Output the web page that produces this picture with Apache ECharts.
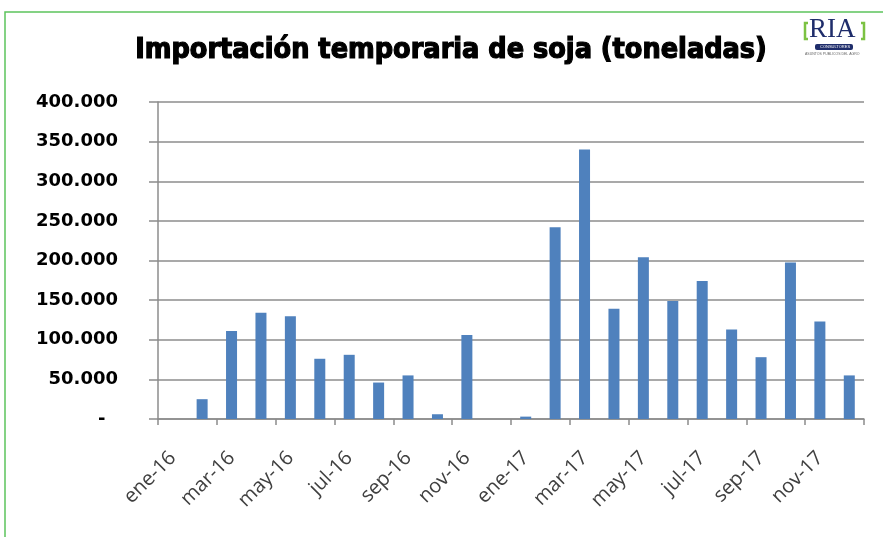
<!DOCTYPE html>
<html>
<head>
<meta charset="utf-8">
<script src="https://cdn.jsdelivr.net/npm/echarts@6/dist/echarts.min.js"></script>
<style>
  html, body { margin: 0; padding: 0; background: #fff; }
  #chart { width: 883px; height: 537px; }
</style>
</head>
<body>
<div id="chart"></div>
<script>
// meses (barras) y etiquetas del eje (inicio de cada mes)
const months = ['ene-16', 'feb-16', 'mar-16', 'abr-16', 'may-16', 'jun-16', 'jul-16', 'ago-16', 'sep-16', 'oct-16', 'nov-16', 'dic-16',
  'ene-17', 'feb-17', 'mar-17', 'abr-17', 'may-17', 'jun-17', 'jul-17', 'ago-17', 'sep-17', 'oct-17', 'nov-17', 'dic-17']
const axisLabels = months.concat(['ene-18'])
// toneladas
const tons = [0, 25000, 111000, 134000, 129500, 76000, 81000, 46000, 55000, 6000, 106000, 0,
  3000, 242000, 340000, 139000, 204000, 149000, 174000, 113000, 78000, 197500, 123000, 55000]
const yTicks = [0, 50000, 100000, 150000, 200000, 250000, 300000, 350000, 400000]

const gray = '#8c8c8c'
const fmt = (v) => v === 0 ? '-  ' : String(v).replace(/\B(?=(\d{3})+(?!\d))/g, '.')

const chart = echarts.init(document.getElementById('chart'))
const option = {
  backgroundColor: '#fff',
  animation: false,
  title: {
    text: 'Importación temporaria de soja (toneladas)',
    left: 446,
    textAlign: 'center',
    top: 31,
    textStyle: {
      fontFamily: 'DejaVu Sans Condensed',
      fontWeight: 'bold',
      fontSize: 28.5,
      color: '#000',
      textBorderColor: '#000',
      textBorderWidth: 1.2,
    },
  },
  grid: { left: 158, right: 19, top: 102, bottom: 118 },
  xAxis: [
    {
      type: 'category',
      data: months,
      show: false,
    },
    {
      type: 'category',
      data: axisLabels,
      boundaryGap: false,
      position: 'bottom',
      axisLine: { lineStyle: { color: gray, width: 1.5 } },
      axisTick: {
        length: 6,
        interval: (i) => i % 2 === 0,
        lineStyle: { color: gray, width: 1.5 },
      },
      axisLabel: {
        interval: (i) => i % 2 === 0 && i < 24,
        rotate: 45,
        margin: 21,
        align: 'right',
        verticalAlign: 'top',
        padding: [11, 0, 0, 0],
        color: '#404040',
        fontFamily: 'Open Sans',
        fontSize: 20,
      },
      splitLine: { show: false },
    },
  ],
  yAxis: {
    type: 'value',
    min: yTicks[0],
    max: yTicks[yTicks.length - 1],
    interval: 50000,
    axisLine: { show: true, lineStyle: { color: gray, width: 1.5 } },
    axisTick: { show: true, length: 9, lineStyle: { color: gray, width: 1.5 } },
    splitLine: { lineStyle: { color: gray, width: 1.5 } },
    axisLabel: {
      formatter: fmt,
      margin: 40,
      color: '#000',
      fontFamily: 'DejaVu Sans',
      fontWeight: 'bold',
      fontSize: 18,
    },
  },
  series: [
    {
      type: 'bar',
      xAxisIndex: 0,
      data: tons,
      barWidth: 11,
      itemStyle: { color: '#4f81bd' },
    },
  ],
  graphic: [
    // marco verde
    {
      type: 'rect',
      shape: { x: 5, y: 12, width: 1000, height: 700 },
      style: { fill: 'none', stroke: '#5cc45c', lineWidth: 1.5 },
      silent: true,
    },
    // logo RIA
    {
      type: 'polyline',
      shape: { points: [[808, 23], [805, 23], [805, 39], [808, 39]] },
      style: { fill: 'none', stroke: '#7cc242', lineWidth: 2.5 },
    },
    {
      type: 'polyline',
      shape: { points: [[861, 23], [864, 23], [864, 39], [861, 39]] },
      style: { fill: 'none', stroke: '#7cc242', lineWidth: 2.5 },
    },
    {
      type: 'text',
      left: 809,
      top: 16,
      style: { text: 'RIA', font: '27px "Liberation Serif"', fill: '#1f2d6b' },
    },
    {
      type: 'rect',
      shape: { x: 815, y: 44, width: 38, height: 6, r: 2 },
      style: { fill: '#1f2d6b' },
    },
    {
      type: 'text',
      left: 820,
      top: 45,
      style: { text: 'CONSULTORES', font: '4px "Liberation Sans"', fill: '#fff' },
    },
    {
      type: 'text',
      left: 805,
      top: 52,
      style: { text: 'ASUNTOS PUBLICOS DEL AGRO', font: '3.5px "Liberation Sans"', fill: '#666' },
    },
  ],
}
chart.setOption(option)
</script>
</body>
</html>
